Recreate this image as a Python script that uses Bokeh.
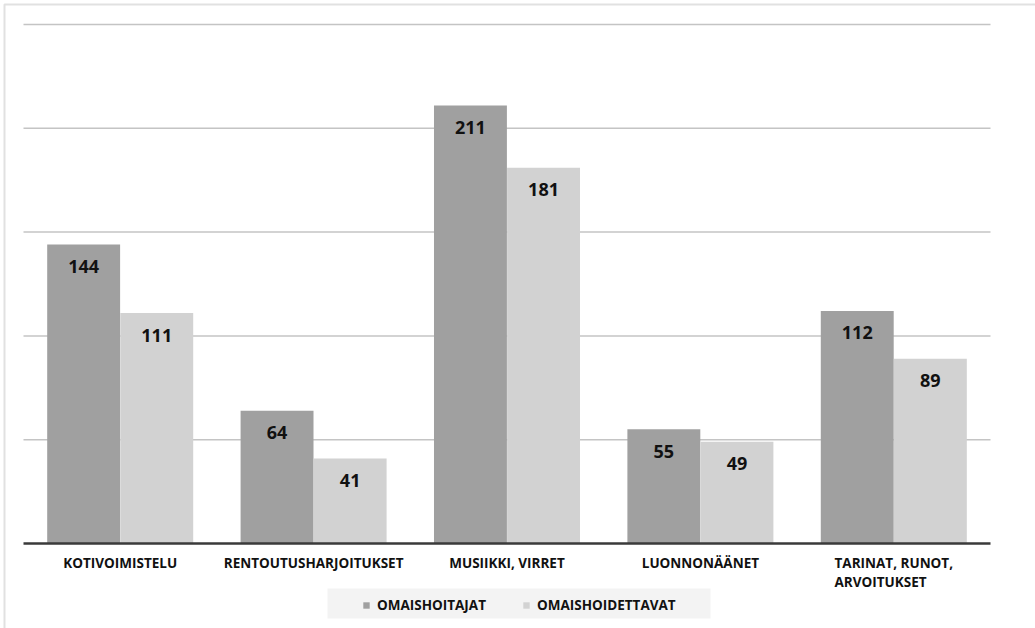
import numpy as np
from bokeh.plotting import figure
from bokeh.models import (ColumnDataSource, Range1d, LabelSet, Legend, LegendItem,
                          BoxAnnotation)
from bokeh.core.properties import value
from bokeh.embed import file_html
from bokeh.resources import INLINE

categories = ["KOTIVOIMISTELU", "RENTOUTUSHARJOITUKSET", "MUSIIKKI, VIRRET",
              "LUONNONÄÄNET", "TARINAT, RUNOT,\nARVOITUKSET"]
omaishoitajat = [144, 64, 211, 55, 112]
omaishoidettavat = [111, 41, 181, 49, 89]
series_names = ["OMAISHOITAJAT", "OMAISHOIDETTAVAT"]
grid_values = [50, 100, 150, 200, 250]

FONT = value("Open Sans")
DARK = "#a0a0a0"
LIGHT = "#d2d2d2"
W, H = 1035, 628

n = len(categories)
centers = np.arange(n) + 0.5
bw = 0.377
off = 0.189

src = ColumnDataSource(dict(
    cat=categories,
    xc=centers,
    xa=centers - off,
    xb=centers + off,
    a=omaishoitajat,
    b=omaishoidettavat,
    alab=[str(v) for v in omaishoitajat],
    blab=[str(v) for v in omaishoidettavat],
    zero=[0] * n,
))

# pixel layout: plot area x 23..990, y(0)=543, y(250)=24
px_per_cat = (990 - 23) / n
px_per_unit = (543 - 24) / 250
x_range = Range1d(-23 / px_per_cat, n + (W - 990) / px_per_cat)
y_range = Range1d(-(H - 543) / px_per_unit, 250 + 24 / px_per_unit)

p = figure(width=W, height=H, output_backend="svg", toolbar_location=None,
           x_range=x_range, y_range=y_range,
           x_axis_location=None, y_axis_location=None,
           min_border=0)
p.outline_line_color = None
p.grid.visible = False
p.background_fill_color = "white"
p.border_fill_color = "white"

# horizontal gridlines across the category area
p.segment(x0=[0] * len(grid_values), x1=[n] * len(grid_values),
          y0=grid_values, y1=grid_values, line_color="#c4c4c4", line_width=1.5)

ra = p.vbar(x="xa", top="a", width=bw, bottom=0, source=src,
            fill_color=DARK, line_color=None)
rb = p.vbar(x="xb", top="b", width=bw, bottom=0, source=src,
            fill_color=LIGHT, line_color=None)

# baseline (category axis line)
p.segment(x0=[0], x1=[n], y0=[0], y1=[0], line_color="#3a3a3a", line_width=2.5)

for xcol, col, lab in (("xa", "a", "alab"), ("xb", "b", "blab")):
    p.add_layout(LabelSet(x=xcol, y=col, text=lab, source=src,
                          text_align="center", text_baseline="middle", y_offset=-22,
                          text_font=FONT, text_font_style="bold", text_font_size="18px",
                          text_color="#111111"))

# category labels
p.add_layout(LabelSet(x="xc", y="zero", text="cat", source=src,
                      text_align="center", text_baseline="top", y_offset=-10,
                      text_font=FONT, text_font_style="bold", text_font_size="13.5px",
                      text_line_height=1.08, text_color="#111111"))

# outer chart border (top and left edges visible)
p.add_layout(BoxAnnotation(left=4, right=W + 50, top=4, bottom=H + 50,
                           left_units="canvas", right_units="canvas",
                           top_units="canvas", bottom_units="canvas",
                           fill_alpha=0, line_color="#9c9c9c", line_width=2))
# legend background box
p.add_layout(BoxAnnotation(left=327, right=710, top=588, bottom=618,
                           left_units="canvas", right_units="canvas",
                           top_units="canvas", bottom_units="canvas",
                           fill_color="#f3f3f3", fill_alpha=1, line_color=None))

legend = Legend(items=[LegendItem(label=series_names[0], renderers=[ra]),
                       LegendItem(label=series_names[1], renderers=[rb])],
                orientation="horizontal", location=(362, H - 614),
                background_fill_alpha=0, border_line_color=None,
                padding=6, spacing=36, margin=0,
                glyph_width=8, glyph_height=8, label_standoff=7, label_height=16,
                label_text_font="Open Sans", label_text_font_style="bold",
                label_text_font_size="13.5px", label_text_color="#111111")
p.add_layout(legend)

open("out.html", "w").write(file_html(p, INLINE))
